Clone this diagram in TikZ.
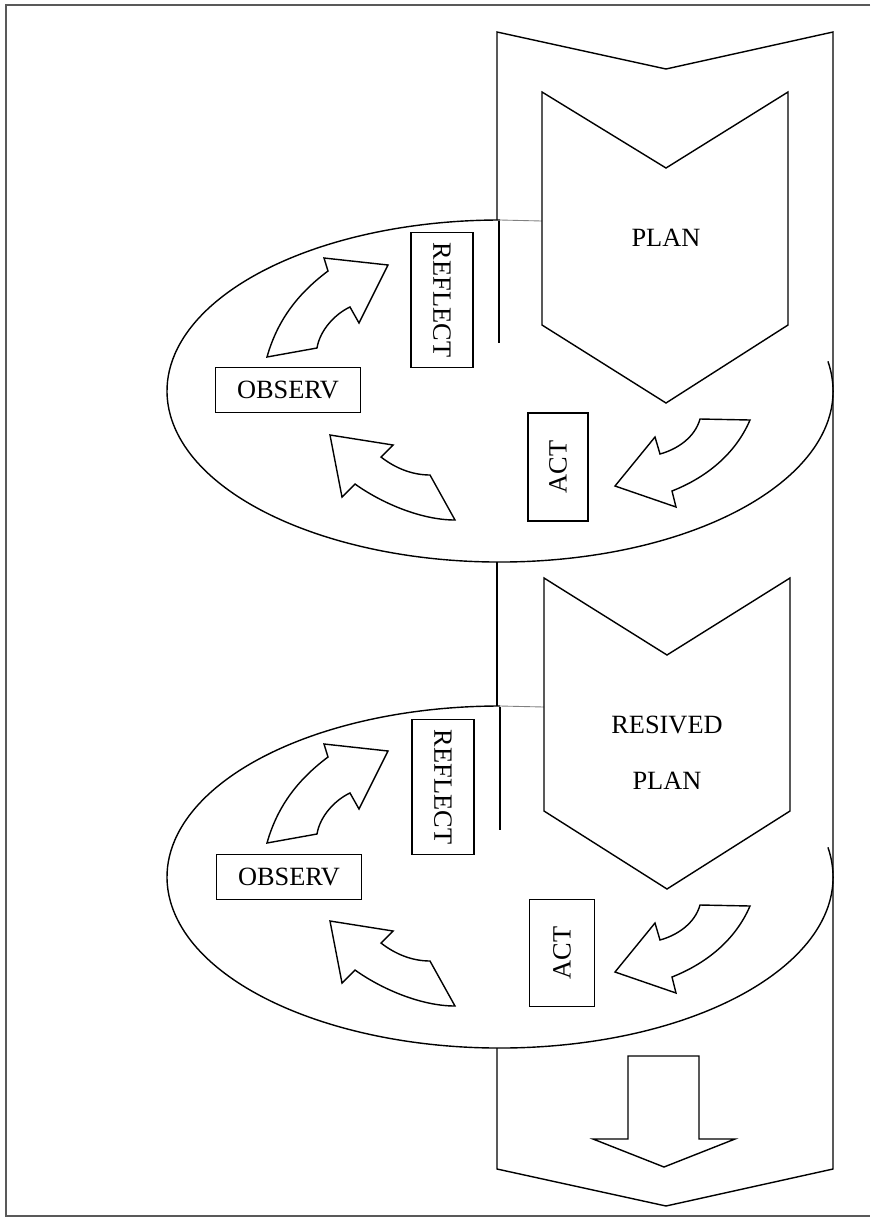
\documentclass[tikz,border=0pt]{standalone}
\usepackage{fontspec}
\setmainfont{Liberation Serif}

\tikzset{
	box/.style={draw, inner sep=0pt},
	blockarrow/.style={draw, line join=miter},
}

\begin{document}
\begin{tikzpicture}[x=0.02cm, y=-0.02cm, line width=0.8pt, font=\fontsize{15}{18}\selectfont]
		\useasboundingbox (0,0) rectangle (870,1218);
		\draw[line width=1.2pt, black!65] (870,5) -- (6,5) -- (6,1216) -- (870,1216);
		
		% the long band
		\draw (497,220) -- (497,32) -- (666,69) -- (833,32) -- (833,1169) -- (666,1206) -- (497,1169) -- (497,1048);
		\draw (497,562) -- (497,706);
		\draw[blockarrow] (628,1056) -- (699,1056) -- (699,1139) -- (735,1139) -- (664,1167) -- (593,1139) -- (628,1139) -- cycle;
		
		% first cycle
		\draw (500,391) ++(-10:333 and 171) arc[start angle=-10, end angle=270, x radius=333, y radius=171];
		\draw[line width=0.5pt, gray] (500,220) -- (542,221);
		\draw (499,221) -- (499,343);
		\draw (542,92) -- (666,168) -- (788,92) -- (788,325) -- (666,403) -- (542,325) -- cycle;
		\node (plan1) at (666,238) {PLAN};
		\node[box, rotate=-90, minimum width=2.7cm, minimum height=1.24cm] (reflect1) at (442,300) {REFLECT};
		\node[box, minimum width=2.9cm, minimum height=0.9cm] (observ1) at (288,390) {OBSERV};
		\node[box, rotate=90, minimum width=2.16cm, minimum height=1.2cm] (act1) at (558,467) {ACT};
		\draw[blockarrow] (267,357) .. controls (278,318) and (300,292) .. (328,271) -- (324,258) -- (388,265) -- (359,323) -- (350,307)
		.. controls (335,314) and (320,330) .. (317,348) -- cycle;
		\draw[blockarrow] (330,435) -- (393,445) -- (381,457) .. controls (395,468) and (412,475) .. (430,475) -- (455,520)
		.. controls (420,520) and (380,502) .. (355,484) -- (342,497) -- cycle;
		\draw[blockarrow] (700,419) -- (750,420) .. controls (735,455) and (705,478) .. (672,491) -- (676,507) -- (615,486) -- (655,437) -- (660,454)
		.. controls (678,449) and (695,437) .. (700,419) -- cycle;
		
		% second cycle
		\begin{scope}[shift={(0,486)}]
		\draw (500,391) ++(-10:333 and 171) arc[start angle=-10, end angle=270, x radius=333, y radius=171];
		\draw[line width=0.5pt, gray] (500,220) -- (544,221);
		\draw (500,221) -- (500,344);
		\draw (544,92) -- (667,169) -- (790,92) -- (790,325) -- (667,403) -- (544,325) -- cycle;
		\node[align=center] (plan2) at (667,267) {RESIVED\\[14pt]PLAN};
		\node[box, rotate=-90, minimum width=2.7cm, minimum height=1.24cm] (reflect2) at (443,301) {REFLECT};
		\node[box, minimum width=2.9cm, minimum height=0.9cm] (observ2) at (289,391) {OBSERV};
		\node[box, rotate=90, minimum width=2.14cm, minimum height=1.3cm] (act2) at (562,467) {ACT};
		\draw[blockarrow] (267,357) .. controls (278,318) and (300,292) .. (328,271) -- (324,258) -- (388,265) -- (359,323) -- (350,307)
		.. controls (335,314) and (320,330) .. (317,348) -- cycle;
		\draw[blockarrow] (330,435) -- (393,445) -- (381,457) .. controls (395,468) and (412,475) .. (430,475) -- (455,520)
		.. controls (420,520) and (380,502) .. (355,484) -- (342,497) -- cycle;
		\draw[blockarrow] (700,419) -- (750,420) .. controls (735,455) and (705,478) .. (672,491) -- (676,507) -- (615,486) -- (655,437) -- (660,454)
		.. controls (678,449) and (695,437) .. (700,419) -- cycle;
		\end{scope}
		
	\end{tikzpicture}
\end{document}
